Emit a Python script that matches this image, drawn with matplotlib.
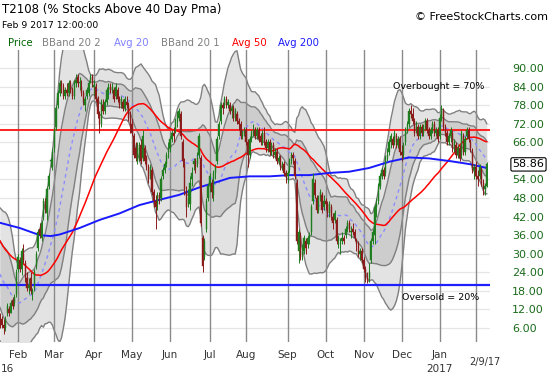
import matplotlib
matplotlib.use("Agg")
import matplotlib.pyplot as plt
import matplotlib.transforms as mtransforms
import numpy as np
import pandas as pd

# NYSE holidays in the window
HOLIDAYS = [
    "2015-11-26", "2015-12-25", "2016-01-01", "2016-01-18", "2016-02-15",
    "2016-03-25", "2016-05-30", "2016-07-04", "2016-09-05", "2016-11-24",
    "2016-12-26", "2017-01-02", "2017-01-16",
]

# closes before the visible window, only used to warm up the averages/bands
nov15_close = [58, 61, 57, 55, 52, 46, 43, 47, 42, 36, 40, 44, 46, 47, 45, 47, 48, 46, 48, 47]
dec15_close = [50, 44, 36, 42, 37, 33, 30, 32, 27, 24, 22, 28, 33, 31, 24, 28, 32, 36, 37, 39, 36, 33]
jan16_early_close = [23, 24, 19, 13, 11, 10, 12, 8, 11]

# visible candles (open, high, low, close), Jan 15 2016 - Feb 9 2017
jan16 = [(10, 11, 6, 8), (9, 10, 6, 7), (7, 9, 4, 6), (6, 10, 5, 9), (11, 14, 10, 13),
         (12, 13, 10, 11), (11, 15, 11, 14), (15, 16, 12, 13), (14, 17, 13, 16), (17, 25, 16, 24)]
feb16 = [(25, 30, 24, 29), (28, 29, 24, 25), (25, 32, 23, 31), (30, 33, 27, 28), (27, 28, 21, 22),
         (22, 24, 18, 19), (19, 22, 17, 20), (22, 24, 17, 18), (17, 19, 15, 18), (19, 25, 18, 24),
         (26, 31, 25, 30), (32, 38, 31, 37), (38, 40, 35, 36), (35, 41, 34, 40), (42, 48, 41, 47),
         (47, 48, 43, 44), (43, 52, 41, 51), (52, 56, 51, 55), (60, 61, 58, 60), (58, 64, 57, 63)]
mar16 = [(64, 71, 63, 70), (71, 78, 70, 77), (78, 83, 77, 82), (82, 86, 81, 85), (85, 86, 82, 84),
         (84, 85, 80, 81), (81, 84, 80, 83), (83, 85, 81, 82), (82, 86, 81, 85), (85, 86, 82, 83),
         (83, 84, 80, 81), (81, 86, 80, 85), (85, 88, 84, 86), (87, 88, 84, 85), (85, 87, 83, 85),
         (84, 86, 81, 82), (82, 83, 78, 79), (78, 81, 76, 80), (81, 84, 80, 83), (82, 86, 81, 85),
         (86, 88, 85, 87), (87, 88, 84, 85)]
apr16 = [(84, 86, 81, 84), (84, 85, 79, 80), (80, 81, 74, 75), (75, 76, 69, 72), (72, 80, 71, 79),
         (78, 80, 75, 76), (76, 80, 75, 79), (79, 84, 78, 83), (82, 85, 80, 84), (84, 85, 82, 83),
         (83, 85, 82, 84), (83, 84, 79, 80), (81, 85, 80, 84), (83, 84, 79, 80), (80, 81, 77, 78),
         (78, 81, 77, 80), (79, 80, 76, 77), (77, 81, 76, 80), (79, 81, 77, 78), (78, 79, 73, 74),
         (75, 76, 69, 71)]
may16 = [(72, 74, 68, 69), (68, 69, 61, 62), (64, 66, 60, 61), (60, 66, 59, 65), (61, 66, 60, 64),
         (65, 67, 59, 60), (61, 70, 60, 68), (64, 65, 59, 60), (61, 62, 57, 58), (58, 59, 53, 54),
         (55, 59, 54, 58), (57, 58, 49, 50), (50, 51, 45, 47), (47, 49, 38, 45), (46, 50, 44, 49),
         (49, 50, 46, 47), (48, 55, 47, 54), (55, 58, 54, 57), (57, 60, 56, 59), (59, 63, 58, 62),
         (63, 66, 61, 64)]
jun16 = [(64, 68, 63, 67), (67, 70, 66, 69), (69, 71, 66, 68), (70, 74, 69, 73), (73, 76, 71, 75),
         (74, 77, 73, 76), (75, 76, 67, 68), (66, 67, 58, 60), (59, 61, 49, 51), (50, 52, 42, 45),
         (46, 51, 45, 48), (46, 55, 44, 53), (54, 58, 52, 56), (59, 61, 57, 60), (60, 61, 56, 58),
         (59, 63, 58, 61), (62, 69, 61, 68), (61, 62, 39, 40), (35, 36, 24, 26), (29, 35, 28, 34),
         (38, 48, 37, 47), (48, 53, 47, 52)]
jul16 = [(52, 56, 50, 55), (53, 54, 48, 50), (49, 57, 47, 56), (56, 59, 54, 58), (60, 68, 59, 67),
         (68, 73, 67, 72), (73, 79, 72, 78), (78, 79, 75, 77), (78, 81, 77, 80), (80, 81, 77, 78),
         (78, 80, 77, 79), (78, 79, 75, 76), (76, 78, 74, 77), (77, 78, 73, 74), (74, 77, 73, 76),
         (75, 76, 72, 73), (73, 74, 70, 72), (72, 73, 67, 68), (68, 70, 67, 69), (69, 71, 68, 70)]
aug16 = [(70, 71, 65, 66), (66, 67, 58, 62), (62, 68, 61, 67), (67, 70, 66, 69), (69, 72, 68, 70),
         (70, 71, 67, 68), (68, 71, 67, 70), (70, 71, 66, 67), (68, 69, 65, 66), (66, 70, 65, 69),
         (69, 71, 65, 66), (66, 67, 63, 64), (64, 67, 63, 66), (66, 67, 62, 63), (63, 66, 62, 65),
         (65, 66, 61, 62), (62, 64, 61, 63), (63, 64, 59, 60), (60, 62, 59, 61), (61, 62, 57, 58),
         (58, 60, 57, 59), (59, 60, 55, 56), (56, 57, 53, 55)]
sep16 = [(55, 57, 53, 56), (57, 61, 56, 60), (60, 63, 59, 62), (62, 63, 59, 61), (60, 61, 54, 55),
         (53, 54, 33, 34), (31, 38, 27, 37), (36, 37, 28, 29), (30, 33, 28, 31), (31, 36, 30, 35),
         (34, 35, 30, 32), (33, 36, 32, 35), (35, 37, 33, 36), (37, 46, 36, 45), (47, 56, 46, 54),
         (53, 54, 48, 49), (48, 49, 43, 44), (44, 49, 43, 48), (48, 51, 47, 50), (49, 50, 43, 44),
         (45, 49, 44, 47)]
oct16 = [(47, 48, 44, 46), (46, 47, 42, 43), (43, 47, 42, 46), (45, 46, 41, 42), (42, 43, 38, 40),
         (41, 44, 40, 43), (41, 42, 33, 34), (34, 36, 32, 35), (33, 35, 30, 33), (34, 37, 33, 35),
         (35, 36, 33, 34), (36, 39, 35, 38), (38, 41, 37, 40), (40, 41, 37, 38), (37, 39, 35, 37),
         (38, 40, 36, 37), (37, 38, 34, 35), (34, 35, 31, 33), (33, 34, 29, 30), (30, 32, 28, 31),
         (31, 32, 27, 28)]
nov16 = [(28, 29, 24, 25), (25, 26, 21, 22), (22, 24, 20.5, 21.5), (22, 27, 21, 24), (28, 35, 27, 34),
         (34, 38, 33, 37), (36, 46, 33, 45), (45, 48, 42, 46), (47, 53, 46, 52), (52, 56, 51, 55),
         (55, 58, 54, 57), (57, 58, 54, 55), (56, 62, 55, 61), (61, 64, 60, 62), (63, 67, 62, 66),
         (66, 69, 64, 68), (67, 68, 64, 65), (66, 70, 65, 69), (68, 69, 64, 65), (65, 68, 64, 67),
         (67, 68, 62, 63)]
dec16 = [(63, 65, 60, 62), (62, 66, 61, 65), (66, 71, 65, 70), (70, 73, 69, 72), (72, 77, 71, 76),
         (76, 78, 74, 75), (75, 77, 72, 73), (73, 74, 68, 69), (70, 73, 69, 71), (71, 72, 67, 68),
         (68, 72, 67, 71), (71, 72, 68, 69), (69, 72, 68, 71), (71, 74, 70, 73), (73, 74, 69, 70),
         (70, 71, 67, 68), (68, 71, 67, 70), (70, 73, 69, 72), (72, 73, 68, 69), (69, 71, 68, 70),
         (70, 71, 66, 67)]
jan17 = [(68, 75, 67, 74), (74, 78, 73, 77), (76, 77, 70, 71), (71, 72, 68, 69), (69, 70, 65, 66),
         (66, 69, 65, 68), (68, 71, 66, 70), (69, 70, 63, 64), (64, 67, 63, 66), (65, 66, 61, 62),
         (62, 65, 61, 64), (64, 65, 60, 61), (62, 70, 61, 69), (68, 69, 62, 63), (63, 68, 62, 67),
         (68, 71, 67, 70), (70, 71, 66, 67), (66, 67, 63, 64), (63, 64, 56, 57), (57, 59, 54, 58)]
feb17 = [(58, 60, 54, 55), (55, 57, 52, 54), (55, 59, 54, 58), (57, 58, 52, 53), (53, 54, 49, 51),
         (51, 53, 49, 52), (52, 59.5, 51.5, 58.86)]

# 200 day average
avg200_dates = ["2016-01-15", "2016-02-02", "2016-02-18", "2016-02-26", "2016-03-04", "2016-03-21",
                "2016-04-06", "2016-04-21", "2016-05-06", "2016-05-23", "2016-06-08", "2016-06-24",
                "2016-07-07", "2016-07-19", "2016-08-03", "2016-08-18", "2016-09-02", "2016-09-20",
                "2016-10-05", "2016-10-20", "2016-11-04", "2016-11-21", "2016-12-07", "2016-12-22",
                "2017-01-11", "2017-01-27", "2017-02-09"]
avg200_values = [40.0, 38.3, 36.0, 35.7, 36.2, 38.3, 40.9, 43.0, 45.7, 47.4, 49.0, 51.6, 53.0, 54.5,
                 55.0, 55.0, 55.4, 55.4, 56.1, 56.5, 57.7, 59.7, 61.1, 60.8, 59.9, 58.9, 57.7]

month_labels = ["Feb", "Mar", "Apr", "May", "Jun", "Jul", "Aug", "Sep", "Oct", "Nov", "Dec", "Jan"]
y_ticks = [6, 12, 18, 24, 30, 36, 42, 48, 54, 60, 66, 72, 78, 84, 90]
last_value = 58.86

GREEN = "#1e7d1e"
DARK_RED = "#8b1a1a"
AXIS_GREEN = "#1b6b1b"

# ---- assemble the series ----
warmup = nov15_close + dec15_close + jan16_early_close
months = [jan16, feb16, mar16, apr16, may16, jun16, jul16, aug16, sep16, oct16, nov16, dec16, jan17, feb17]
ohlc = pd.DataFrame([row for m in months for row in m], columns=["open", "high", "low", "close"])

dates = pd.bdate_range("2015-11-02", "2017-02-09", freq="C", holidays=HOLIDAYS)
if len(dates) != len(warmup) + len(ohlc):
    raise SystemExit(f"length mismatch {len(dates)} vs {len(warmup) + len(ohlc)}")

pos_all = np.arange(len(dates)) - dates.get_loc(pd.Timestamp("2016-02-01"))
close_all = pd.Series(warmup + list(ohlc["close"]))
ma20 = close_all.rolling(20).mean()
sd20 = close_all.rolling(20).std(ddof=0)
ma50 = close_all.rolling(50).mean()

vis = slice(len(warmup), None)
x = pos_all[vis]
ma20_v = ma20[vis].values
sd20_v = sd20[vis].values
ma50_v = ma50[vis].values

fig = plt.figure(figsize=(5.5, 3.75), dpi=100)
ax = fig.add_axes([0, 33 / 375, 490 / 550, 292 / 375])
ax.set_xlim(-9.94, 260.8)
ax.set_ylim(1.48, 95.82)
for s in ax.spines.values():
    s.set_visible(False)

# horizontal grid
for v in y_ticks:
    ax.axhline(v, color="#e6e6e6", lw=0.9, zorder=0)

# bollinger bands
ax.fill_between(x, ma20_v - 2 * sd20_v, ma20_v + 2 * sd20_v, color="#e3e3e3", lw=0, zorder=1)
ax.fill_between(x, ma20_v - sd20_v, ma20_v + sd20_v, color="#cdcdcd", lw=0, zorder=1.1)
for k in (2, 1, -1, -2):
    ax.plot(x, ma20_v + k * sd20_v, color="#808080", lw=1.0, zorder=1.2)

# month gridlines
month_starts = [dates[dates >= pd.Timestamp(f"{y}-{m:02d}-01")][0]
                for y, m in [(2016, i) for i in range(2, 13)] + [(2017, 1), (2017, 2)]]
grid_pos = [pos_all[dates.get_loc(d)] for d in month_starts]
for gx in grid_pos:
    ax.axvline(gx, color="#8a8a8a", lw=1.0, zorder=1.5)

ax.plot(x, ma20_v, color="#8c8cff", lw=1.0, ls=(0, (2.5, 2.5)), zorder=2)
ax.axhline(70, color="#ff2020", lw=1.4, zorder=2.1)
ax.axhline(20, color="#2020ff", lw=1.6, zorder=2.1)
ax.plot(x, ma50_v, color="#ff0000", lw=1.1, zorder=2.2)
a200_x = pos_all[dates.get_indexer(pd.to_datetime(avg200_dates))]
ax.plot(a200_x, avg200_values, color="#1a1aff", lw=1.4, zorder=2.2)

# candles
up = ohlc["close"] >= ohlc["open"]
colors = np.where(up, GREEN, DARK_RED)
ax.vlines(x, ohlc["low"], ohlc["high"], colors=colors, lw=0.7, zorder=3)
body = (ohlc["close"] - ohlc["open"]).values
body = np.where(np.abs(body) < 0.4, 0.4, body)
ax.bar(x, body, bottom=ohlc["open"], width=0.65, color=colors, edgecolor=colors, lw=0.3, zorder=3.1)

ax.text(207.2, 83.9, "Overbought = 70%", fontsize=6.8, va="center", ha="left", zorder=4)
ax.text(212.2, 16.0, "Oversold = 20%", fontsize=6.8, va="center", ha="left", zorder=4)

# right axis labels (60.00 sits under the last-value box)
shown = [v for v in y_ticks if v != 60]
ax.yaxis.tick_right()
ax.set_yticks(shown)
ax.set_yticklabels([f"{v:.2f}" for v in shown], color=AXIS_GREEN, fontsize=8)
ax.tick_params(axis="y", length=0, pad=16)
ax.set_xticks([])
ax.text(1.046, last_value, f"{last_value:.2f}", transform=mtransforms.blended_transform_factory(ax.transAxes, ax.transData),
        fontsize=8, va="center", ha="left", zorder=5,
        bbox=dict(boxstyle="round,pad=0.15", fc="white", ec="black", lw=0.8))

# x labels
xt = mtransforms.blended_transform_factory(ax.transData, fig.transFigure)
for gx, lab in zip(grid_pos[:12], month_labels):
    fig.text(gx, 1 - 355 / 375, lab, transform=xt, fontsize=7.5, ha="center", va="center", color="#333333")
fig.text(1 / 550, 1 - 369 / 375, "16", fontsize=7.5, ha="left", va="center", color="#333333")
fig.text(grid_pos[11], 1 - 369 / 375, "2017", transform=xt, fontsize=7.5, ha="center", va="center", color="#333333")
fig.text(x[-1] - 1, 1 - 362 / 375, "2/9/17", transform=xt, fontsize=7, ha="center", va="center", color="#333333")

# header
fig.text(2 / 550, 1 - 9 / 375, "T2108 (% Stocks Above 40 Day Pma)", fontsize=8.5, ha="left", va="center")
fig.text(2 / 550, 1 - 25 / 375, "Feb 9 2017 12:00:00", fontsize=6.7, ha="left", va="center")
fig.text(548 / 550, 1 - 17 / 375, "\u00a9 FreeStockCharts.com", fontsize=8, ha="right", va="center")
legend_items = [("Price", 8, "#006400"), ("BBand 20 2", 42, "#808080"), ("Avg 20", 114, "#8080ff"),
                ("BBand 20 1", 161, "#808080"), ("Avg 50", 232, "#ff0000"), ("Avg 200", 278, "#1a1aff")]
for lab, px, col in legend_items:
    fig.text(px / 550, 1 - 43 / 375, lab, fontsize=7.3, ha="left", va="center", color=col)

fig.savefig("out.png", dpi=100)
